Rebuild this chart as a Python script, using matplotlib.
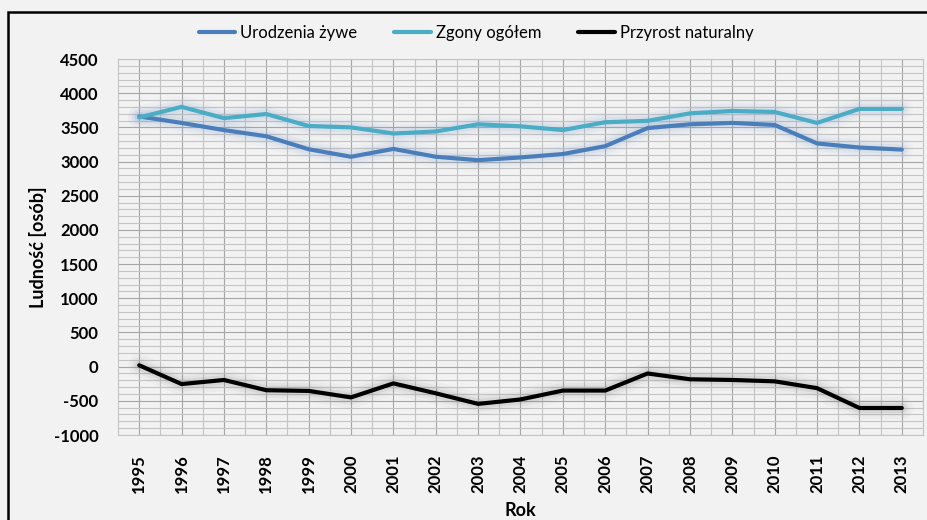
import matplotlib.pyplot as plt
from matplotlib.patches import Rectangle
from matplotlib.ticker import MultipleLocator

# data
years = [str(y) for y in range(1995, 2014)]
urodzenia = [3660, 3565, 3460, 3370, 3180, 3070, 3185, 3070, 3020, 3060,
             3110, 3225, 3490, 3545, 3565, 3535, 3265, 3205, 3175]
zgony = [3645, 3800, 3635, 3695, 3520, 3500, 3410, 3440, 3545, 3515,
         3460, 3575, 3595, 3705, 3740, 3725, 3565, 3770, 3770]
przyrost = [20, -255, -195, -345, -355, -450, -245, -390, -545, -480,
            -350, -350, -100, -185, -195, -215, -315, -605, -605]

series = [
    ("Urodzenia żywe", urodzenia, "#4a7ebb", "#8aa6d0"),
    ("Zgony ogółem", zgony, "#4bacc6", "#8aa6d0"),
    ("Przyrost naturalny", przyrost, "#000000", "#7f7f7f"),
]

plt.rcParams['font.family'] = ['Lato', 'DejaVu Sans']
plt.rcParams['axes.unicode_minus'] = False
bg = "#f2f2f2"

fig = plt.figure(figsize=(9.28, 5.2), dpi=100, facecolor=bg)
ax = fig.add_axes([118 / 928, 85 / 520, 805 / 928, 376 / 520], facecolor=bg)

x = list(range(len(years)))
handles = []
for name, vals, col, glow in series:
    # soft glow under each line
    for lw, a in [(16, 0.05), (11, 0.08), (7, 0.12)]:
        ax.plot(x, vals, color=glow, lw=lw, alpha=a, solid_capstyle='round',
                solid_joinstyle='round', zorder=2)
    h, = ax.plot(x, vals, color=col, lw=3, label=name, solid_capstyle='round',
                 solid_joinstyle='round', zorder=3)
    handles.append(h)

ax.set_xlim(-0.5, len(years) - 0.5)
ax.set_ylim(-1000, 4500)
ax.yaxis.set_major_locator(MultipleLocator(500))
ax.yaxis.set_minor_locator(MultipleLocator(100))
ax.set_xticks(x)
ax.set_xticks([i + 0.5 for i in x[:-1]], minor=True)
ax.set_xticklabels(years, rotation=90, fontweight='bold', fontsize=12)
for lab in ax.get_yticklabels():
    lab.set_fontweight('bold')
    lab.set_fontsize(12)

ax.grid(True, which='major', color='#a6a6a6', lw=0.8)
ax.grid(True, which='minor', color='#c4c4c4', lw=0.8)
ax.set_axisbelow(True)
ax.tick_params(which='both', length=0)
ax.tick_params(axis='y', pad=14)
ax.tick_params(axis='x', pad=14)
for sp in ax.spines.values():
    sp.set_color('#c4c4c4')
    sp.set_linewidth(0.8)

ax.set_ylabel("Ludność [osób]", fontweight='bold', fontsize=13, labelpad=5)
ax.set_xlabel("Rok", fontweight='bold', fontsize=13, labelpad=6)

fig.legend(handles=handles, loc='center', bbox_to_anchor=(476 / 928, 1 - 33 / 520),
           ncol=3, frameon=False, fontsize=12, handlelength=2.2,
           handletextpad=0.3, columnspacing=2.2)

# black border around the chart area
fig.patches.append(Rectangle((8 / 928, -0.05), 1.0, 1 - 12 / 520 + 0.05,
                             transform=fig.transFigure, fill=False,
                             edgecolor='black', lw=1.8))

fig.savefig("out.png", dpi=100, facecolor=bg)
